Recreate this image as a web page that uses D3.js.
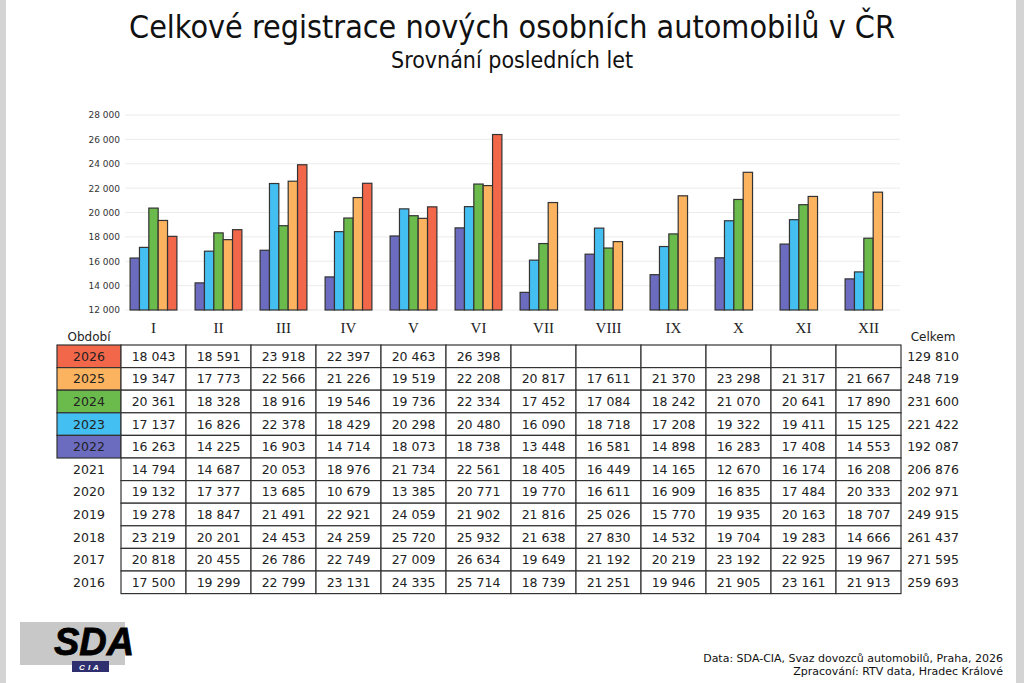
<!DOCTYPE html>
<html>
<head>
<meta charset="utf-8">
<script src="https://cdn.jsdelivr.net/npm/d3@7"></script>
<style>
  body { margin: 0; background: #fff; }
  svg { display: block; }
</style>
</head>
<body>
<svg id="chart" width="1024" height="683"></svg>
<script>
// --- data ---
var months = ["I", "II", "III", "IV", "V", "VI", "VII", "VIII", "IX", "X", "XI", "XII"];
var tableYears = [2026, 2025, 2024, 2023, 2022, 2021, 2020, 2019, 2018, 2017, 2016];
var chartYears = [2022, 2023, 2024, 2025, 2026];

var v2026 = [18043, 18591, 23918, 22397, 20463, 26398, null, null, null, null, null, null];
var v2025 = [19347, 17773, 22566, 21226, 19519, 22208, 20817, 17611, 21370, 23298, 21317, 21667];
var v2024 = [20361, 18328, 18916, 19546, 19736, 22334, 17452, 17084, 18242, 21070, 20641, 17890];
var v2023 = [17137, 16826, 22378, 18429, 20298, 20480, 16090, 18718, 17208, 19322, 19411, 15125];
var v2022 = [16263, 14225, 16903, 14714, 18073, 18738, 13448, 16581, 14898, 16283, 17408, 14553];
var v2021 = [14794, 14687, 20053, 18976, 21734, 22561, 18405, 16449, 14165, 12670, 16174, 16208];
var v2020 = [19132, 17377, 13685, 10679, 13385, 20771, 19770, 16611, 16909, 16835, 17484, 20333];
var v2019 = [19278, 18847, 21491, 22921, 24059, 21902, 21816, 25026, 15770, 19935, 20163, 18707];
var v2018 = [23219, 20201, 24453, 24259, 25720, 25932, 21638, 27830, 14532, 19704, 19283, 14666];
var v2017 = [20818, 20455, 26786, 22749, 27009, 26634, 19649, 21192, 20219, 23192, 22925, 19967];
var v2016 = [17500, 19299, 22799, 23131, 24335, 25714, 18739, 21251, 19946, 21905, 23161, 21913];
var totals = [129810, 248719, 231600, 221422, 192087, 206876, 202971, 249915, 261437, 271595, 259693];

var yTicks = [12000, 14000, 16000, 18000, 20000, 22000, 24000, 26000, 28000];

var rowValues = {
  2026: v2026, 2025: v2025, 2024: v2024, 2023: v2023, 2022: v2022, 2021: v2021,
  2020: v2020, 2019: v2019, 2018: v2018, 2017: v2017, 2016: v2016
};
var yearColors = { 2022: "#6b6bc0", 2023: "#43bff2", 2024: "#6abb4b", 2025: "#fbb35f", 2026: "#f2664a" };

var cz = d3.formatLocale({ decimal: ",", thousands: "\u00a0", grouping: [3], currency: ["", " Kč"] });
var fmt = cz.format(",d");

var svg = d3.select("#chart");
var font = "DejaVu Sans, Verdana, sans-serif";

// side frame strips
svg.append("rect").attr("x", 0).attr("y", 0).attr("width", 6).attr("height", 683).attr("fill", "#d4d4d4");
svg.append("rect").attr("x", 1016).attr("y", 0).attr("width", 8).attr("height", 683).attr("fill", "#d4d4d4");

// titles
svg.append("text").attr("x", 512).attr("y", 38).attr("text-anchor", "middle")
  .attr("font-family", "DejaVu Sans Condensed, DejaVu Sans, sans-serif").attr("font-size", 32).attr("fill", "#111")
  .text("Celkové registrace nových osobních automobilů v ČR");
svg.append("text").attr("x", 512).attr("y", 68).attr("text-anchor", "middle")
  .attr("font-family", "DejaVu Sans Condensed, DejaVu Sans, sans-serif").attr("font-size", 23).attr("fill", "#111")
  .text("Srovnání posledních let");

// scales
var x = d3.scaleBand().domain(months).range([121, 901]);
var xInner = d3.scaleBand().domain(chartYears)
  .range([x.bandwidth() * 0.14, x.bandwidth() * 0.86]);
var y = d3.scaleLinear().domain([12000, 28000]).range([310, 115]);

// grid
svg.append("g").selectAll("line").data(yTicks).enter().append("line")
  .attr("x1", 125).attr("x2", 900)
  .attr("y1", function (d) { return y(d); }).attr("y2", function (d) { return y(d); })
  .attr("stroke", "#ebebeb").attr("stroke-width", 1);

// y axis
var yAxis = svg.append("g").attr("transform", "translate(122,0)")
  .call(d3.axisLeft(y).tickValues(yTicks).tickSize(0).tickPadding(2).tickFormat(fmt));
yAxis.select(".domain").remove();
yAxis.selectAll("text").attr("font-family", font).attr("font-size", 9).attr("fill", "#333");

// bars
var groups = svg.append("g").selectAll("g").data(months).enter().append("g")
  .attr("transform", function (m) { return "translate(" + x(m) + ",0)"; });
groups.selectAll("rect")
  .data(function (m, i) {
    return chartYears.map(function (yr) { return { year: yr, value: rowValues[yr][i] }; })
      .filter(function (d) { return d.value != null; });
  })
  .enter().append("rect")
  .attr("x", function (d) { return xInner(d.year); })
  .attr("width", xInner.bandwidth())
  .attr("y", function (d) { return y(d.value); })
  .attr("height", function (d) { return y(12000) - y(d.value); })
  .attr("fill", function (d) { return yearColors[d.year]; })
  .attr("stroke", "#333").attr("stroke-width", 1.2);

// month labels (table header)
svg.append("g").selectAll("text").data(months).enter().append("text")
  .attr("x", function (m) { return x(m) + x.bandwidth() / 2; })
  .attr("y", 333).attr("text-anchor", "middle")
  .attr("font-family", "Liberation Serif, Times New Roman, serif").attr("font-size", 15).attr("fill", "#222")
  .text(function (m) { return m; });

svg.append("text").attr("x", 89).attr("y", 341).attr("text-anchor", "middle")
  .attr("font-family", font).attr("font-size", 12).attr("fill", "#222").text("Období");
svg.append("text").attr("x", 933).attr("y", 341).attr("text-anchor", "middle")
  .attr("font-family", font).attr("font-size", 12).attr("fill", "#222").text("Celkem");

// table
var rowTop = 345, rowH = 22.6;
var rowY = d3.scaleBand().domain(tableYears).range([rowTop, rowTop + rowH * tableYears.length]);

var rows = svg.append("g").selectAll("g").data(tableYears).enter().append("g")
  .attr("transform", function (yr) { return "translate(0," + rowY(yr) + ")"; });

rows.filter(function (yr) { return yearColors[yr]; }).append("rect")
  .attr("x", 57).attr("y", 0).attr("width", 64).attr("height", rowY.bandwidth())
  .attr("fill", function (yr) { return yearColors[yr]; })
  .attr("stroke", "#333").attr("stroke-width", 1.2);

rows.append("text").attr("x", 89).attr("y", rowY.bandwidth() / 2 + 4.5).attr("text-anchor", "middle")
  .attr("font-family", font).attr("font-size", 12.5).attr("fill", "#222")
  .text(function (yr) { return yr; });

rows.selectAll("rect.cell").data(function (yr) { return rowValues[yr]; }).enter().append("rect")
  .attr("class", "cell")
  .attr("x", function (d, i) { return x(months[i]); }).attr("y", 0)
  .attr("width", x.bandwidth()).attr("height", rowY.bandwidth())
  .attr("fill", "#fff").attr("stroke", "#333").attr("stroke-width", 1.2);

rows.selectAll("text.val").data(function (yr) { return rowValues[yr]; }).enter().append("text")
  .attr("class", "val")
  .attr("x", function (d, i) { return x(months[i]) + x.bandwidth() / 2; })
  .attr("y", rowY.bandwidth() / 2 + 4.5).attr("text-anchor", "middle")
  .attr("font-family", font).attr("font-size", 12.5).attr("fill", "#222")
  .text(function (d) { return d == null ? "" : fmt(d); });

rows.append("text").attr("x", 933).attr("y", rowY.bandwidth() / 2 + 4.5).attr("text-anchor", "middle")
  .attr("font-family", font).attr("font-size", 12.5).attr("fill", "#222")
  .text(function (yr, i) { return fmt(totals[i]); });

// logo
svg.append("rect").attr("x", 20).attr("y", 622).attr("width", 105).attr("height", 43).attr("fill", "#c8c8c8");
svg.append("text").attr("x", 94).attr("y", 655).attr("text-anchor", "middle")
  .attr("font-family", "Liberation Sans, Arial, sans-serif").attr("font-weight", "bold").attr("font-style", "italic")
  .attr("font-size", 38).attr("stroke", "#000").attr("stroke-width", 0.8).attr("fill", "#000").text("SDA");
svg.append("rect").attr("x", 72).attr("y", 661).attr("width", 37).attr("height", 11).attr("fill", "#2f2f6f");
svg.append("text").attr("x", 90.5).attr("y", 670).attr("text-anchor", "middle")
  .attr("font-family", "Liberation Sans, Arial, sans-serif").attr("font-weight", "bold").attr("font-style", "italic")
  .attr("font-size", 8).attr("letter-spacing", 3).attr("fill", "#fff").text("CIA");

// source
svg.append("text").attr("x", 1003).attr("y", 662).attr("text-anchor", "end")
  .attr("font-family", font).attr("font-size", 11).attr("fill", "#111")
  .text("Data: SDA-CIA, Svaz dovozců automobilů, Praha, 2026");
svg.append("text").attr("x", 1003).attr("y", 675).attr("text-anchor", "end")
  .attr("font-family", font).attr("font-size", 11).attr("fill", "#111")
  .text("Zpracování: RTV data, Hradec Králové");
</script>
</body>
</html>
